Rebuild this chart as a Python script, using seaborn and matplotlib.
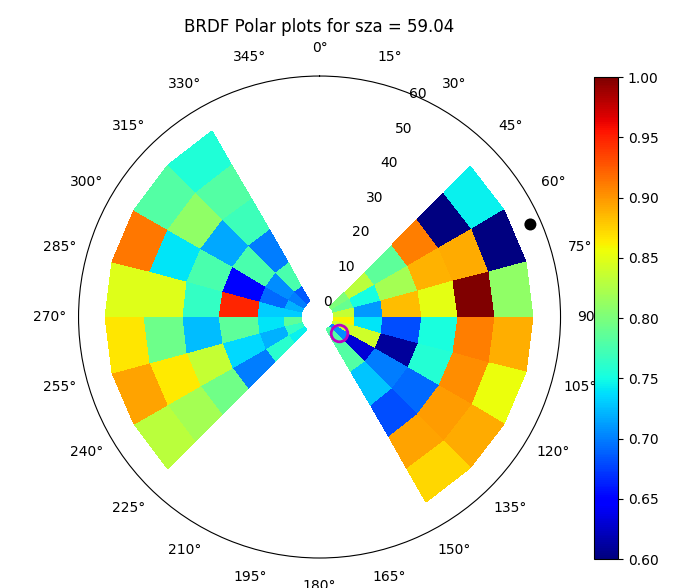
import numpy as np
import matplotlib
matplotlib.use("Agg")
import matplotlib.pyplot as plt
import seaborn as sns

sza = 59.04
saa = 66.3

# view azimuth bin edges (deg), forward and backward scatter sides
vaa_edges_fwd = [45, 60, 75, 90, 105, 120, 135, 150]
vaa_edges_bwd = [225, 240, 255, 270, 285, 300, 315, 330]

# view zenith bin edges (deg)
vza_edges_fwd = [1.3, 7.1, 14.6, 24.9, 34.5, 44.5, 54.5]
vza_edges_bwd = [2.5, 7.3, 14.4, 24.6, 34.4, 44.6, 54.8]

# normalised BRDF, rows = vza ring (inner -> outer), cols = vaa bin
brdf_fwd = [
    [0.800, 0.790, 0.835, 0.860, 0.840, 0.705, 0.780],
    [0.830, 0.750, 0.710, 0.740, 0.840, 0.630, 0.780],
    [0.785, 0.820, 0.883, 0.680, 0.610, 0.700, 0.728],
    [0.910, 0.888, 0.850, 0.753, 0.757, 0.692, 0.680],
    [0.600, 0.892, 1.000, 0.910, 0.904, 0.897, 0.895],
    [0.745, 0.600, 0.810, 0.890, 0.854, 0.892, 0.873],
]
brdf_bwd = [
    [0.745, 0.765, 0.785, 0.730, 0.720, 0.700, 0.685],
    [0.760, 0.720, 0.740, 0.730, 0.692, 0.705, 0.775],
    [0.700, 0.735, 0.785, 0.948, 0.645, 0.775, 0.700],
    [0.795, 0.835, 0.724, 0.765, 0.775, 0.716, 0.770],
    [0.820, 0.865, 0.793, 0.848, 0.740, 0.810, 0.780],
    [0.830, 0.895, 0.867, 0.847, 0.913, 0.780, 0.755],
]

# hotspot marker
hotspot_vza = 4.3
hotspot_vaa = 128.8

cmap = matplotlib.colormaps['jet']

fig = plt.figure(figsize=(6.9, 5.88), dpi=100)
ax = fig.add_axes([0.1138, 0.051, 0.6986, 0.8197], projection='polar')
cax = fig.add_axes([0.861, 0.0493, 0.0348, 0.8197])

ax.set_theta_zero_location('N')
ax.set_theta_direction(-1)

for t_edges, r_edges, vals in [(vaa_edges_fwd, vza_edges_fwd, brdf_fwd),
                               (vaa_edges_bwd, vza_edges_bwd, brdf_bwd)]:
    T, R = np.meshgrid(np.radians(t_edges), r_edges)
    mesh = ax.pcolormesh(T, R, np.array(vals), cmap=cmap, vmin=0.6, vmax=1.0,
                         shading='flat')

# sun position and hotspot
sns.scatterplot(x=[np.radians(saa)], y=[sza], color='black', s=75,
                edgecolor='none', ax=ax)
ax.plot(np.radians(hotspot_vaa), hotspot_vza, 'o', mfc='none', mec='m',
        mew=2, markersize=12)

ax.set_ylim(-2.4, 61.9)
ax.set_yticks(range(0, 61, 10))
ax.set_xticks(np.radians(np.arange(0, 360, 15)))
ax.set_xlabel('')
ax.set_ylabel('')
ax.grid(False)
ax.tick_params(axis='x', pad=10)
ax.set_title(f'BRDF Polar plots for sza = {sza}')

fig.colorbar(mesh, cax=cax)
fig.savefig('out.png', dpi=100)
